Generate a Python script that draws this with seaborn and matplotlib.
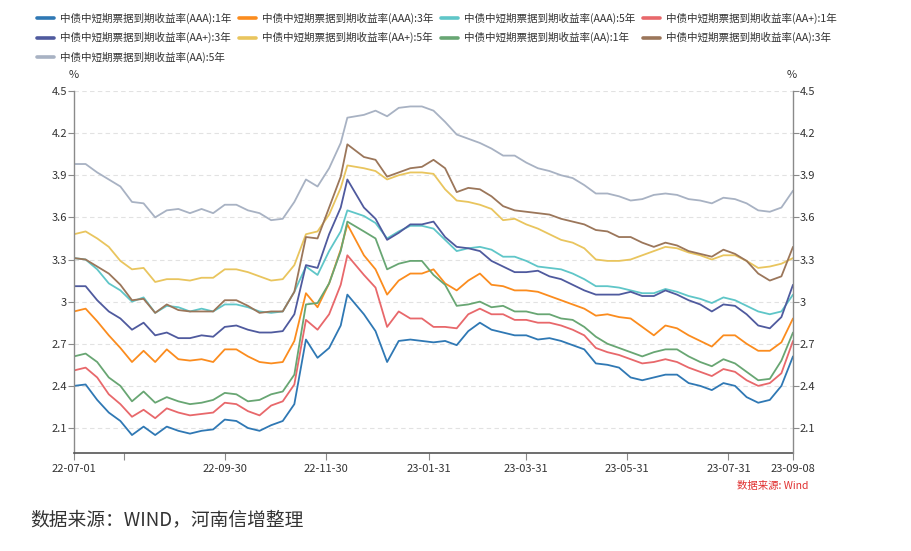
import matplotlib
matplotlib.use("Agg")
import matplotlib.pyplot as plt
from matplotlib.lines import Line2D
import pandas as pd
import seaborn as sns

dates = ["2022-07-01", "2022-07-08", "2022-07-15", "2022-07-22", "2022-07-29", "2022-08-05",
         "2022-08-12", "2022-08-19", "2022-08-26", "2022-09-02", "2022-09-09", "2022-09-16",
         "2022-09-23", "2022-09-30", "2022-10-07", "2022-10-14", "2022-10-21", "2022-10-28",
         "2022-11-04", "2022-11-11", "2022-11-18", "2022-11-25", "2022-12-02", "2022-12-09",
         "2022-12-13", "2022-12-23", "2022-12-30", "2023-01-06", "2023-01-13", "2023-01-20",
         "2023-01-27", "2023-02-03", "2023-02-10", "2023-02-17", "2023-02-24", "2023-03-03",
         "2023-03-10", "2023-03-17", "2023-03-24", "2023-03-31", "2023-04-07", "2023-04-14",
         "2023-04-21", "2023-04-28", "2023-05-05", "2023-05-12", "2023-05-19", "2023-05-26",
         "2023-06-02", "2023-06-09", "2023-06-16", "2023-06-23", "2023-06-30", "2023-07-07",
         "2023-07-14", "2023-07-21", "2023-07-28", "2023-08-04", "2023-08-11", "2023-08-18",
         "2023-08-25", "2023-09-01", "2023-09-08"]

aaa_1y = [2.40, 2.41, 2.30, 2.21, 2.15, 2.05, 2.11, 2.05, 2.11, 2.08, 2.06, 2.08, 2.09, 2.16, 2.15, 2.10,
          2.08, 2.12, 2.15, 2.27, 2.73, 2.60, 2.67, 2.83, 3.05, 2.91, 2.79, 2.57, 2.72, 2.73,
          2.72, 2.71, 2.72, 2.69, 2.79, 2.85, 2.80, 2.78, 2.76, 2.76, 2.73, 2.74, 2.72, 2.69, 2.66, 2.56,
          2.55, 2.53, 2.46, 2.44, 2.46, 2.48, 2.48, 2.42, 2.40, 2.37, 2.42, 2.40, 2.32, 2.28, 2.30, 2.40, 2.61]
aaa_3y = [2.93, 2.95, 2.86, 2.76, 2.67, 2.57, 2.65, 2.57, 2.66, 2.59, 2.58, 2.59, 2.57, 2.66, 2.66, 2.61,
          2.57, 2.56, 2.57, 2.72, 3.06, 2.96, 3.13, 3.37, 3.55, 3.33, 3.23, 3.05, 3.15, 3.20,
          3.20, 3.23, 3.13, 3.08, 3.15, 3.20, 3.12, 3.11, 3.08, 3.08, 3.07, 3.04, 3.01, 2.98, 2.95, 2.90,
          2.91, 2.89, 2.88, 2.82, 2.76, 2.83, 2.81, 2.76, 2.72, 2.68, 2.76, 2.76, 2.70, 2.65, 2.65, 2.71, 2.88]
aaa_5y = [3.31, 3.30, 3.23, 3.13, 3.08, 3.00, 3.03, 2.92, 2.97, 2.96, 2.93, 2.95, 2.93, 2.98, 2.98, 2.96,
          2.93, 2.92, 2.93, 3.07, 3.25, 3.19, 3.36, 3.50, 3.65, 3.61, 3.56, 3.45, 3.50, 3.54,
          3.54, 3.52, 3.44, 3.36, 3.38, 3.39, 3.37, 3.32, 3.32, 3.29, 3.25, 3.24, 3.23, 3.20, 3.16, 3.11,
          3.11, 3.10, 3.08, 3.06, 3.06, 3.09, 3.07, 3.04, 3.02, 2.99, 3.03, 3.01, 2.97, 2.93, 2.91, 2.93, 3.05]
aap_1y = [2.51, 2.53, 2.46, 2.34, 2.27, 2.18, 2.23, 2.17, 2.24, 2.21, 2.19, 2.20, 2.21, 2.28, 2.27, 2.22,
          2.19, 2.26, 2.29, 2.41, 2.87, 2.80, 2.91, 3.12, 3.33, 3.19, 3.10, 2.82, 2.93, 2.88,
          2.88, 2.82, 2.82, 2.81, 2.91, 2.95, 2.91, 2.91, 2.87, 2.87, 2.85, 2.85, 2.83, 2.80, 2.76, 2.67,
          2.64, 2.62, 2.59, 2.56, 2.57, 2.59, 2.57, 2.53, 2.50, 2.47, 2.52, 2.50, 2.44, 2.40, 2.42, 2.49, 2.72]
aap_3y = [3.11, 3.11, 3.01, 2.93, 2.88, 2.80, 2.85, 2.76, 2.78, 2.74, 2.74, 2.76, 2.75, 2.82, 2.83, 2.80,
          2.78, 2.78, 2.79, 2.91, 3.26, 3.24, 3.48, 3.67, 3.87, 3.67, 3.59, 3.44, 3.49, 3.55,
          3.55, 3.57, 3.46, 3.39, 3.38, 3.36, 3.29, 3.25, 3.21, 3.21, 3.22, 3.18, 3.16, 3.12, 3.08, 3.05,
          3.05, 3.05, 3.07, 3.04, 3.04, 3.08, 3.05, 3.01, 2.98, 2.93, 2.98, 2.97, 2.91, 2.83, 2.81, 2.89, 3.12]
aap_5y = [3.48, 3.50, 3.45, 3.39, 3.29, 3.23, 3.24, 3.14, 3.16, 3.16, 3.15, 3.17, 3.17, 3.23, 3.23, 3.21,
          3.18, 3.15, 3.16, 3.26, 3.48, 3.50, 3.62, 3.81, 3.97, 3.95, 3.93, 3.87, 3.90, 3.92,
          3.92, 3.91, 3.80, 3.72, 3.71, 3.69, 3.66, 3.58, 3.59, 3.55, 3.52, 3.48, 3.44, 3.42, 3.38, 3.30,
          3.29, 3.29, 3.30, 3.33, 3.36, 3.39, 3.38, 3.35, 3.33, 3.30, 3.33, 3.33, 3.29, 3.24, 3.25, 3.27, 3.31]
aa_1y = [2.61, 2.63, 2.57, 2.46, 2.40, 2.29, 2.36, 2.28, 2.32, 2.29, 2.27, 2.28, 2.30, 2.35, 2.34, 2.29,
         2.30, 2.34, 2.36, 2.48, 2.98, 2.99, 3.13, 3.36, 3.57, 3.50, 3.45, 3.23, 3.27, 3.29,
         3.29, 3.19, 3.12, 2.97, 2.98, 3.00, 2.96, 2.97, 2.93, 2.93, 2.91, 2.91, 2.88, 2.87, 2.82, 2.75,
         2.70, 2.67, 2.64, 2.61, 2.64, 2.66, 2.66, 2.61, 2.57, 2.54, 2.59, 2.56, 2.50, 2.44, 2.45, 2.58, 2.78]
aa_3y = [3.31, 3.30, 3.25, 3.20, 3.12, 3.01, 3.02, 2.92, 2.98, 2.94, 2.93, 2.93, 2.93, 3.01, 3.01, 2.97,
         2.92, 2.93, 2.93, 3.07, 3.46, 3.45, 3.67, 3.89, 4.12, 4.03, 4.01, 3.89, 3.92, 3.95,
         3.96, 4.01, 3.95, 3.78, 3.81, 3.80, 3.75, 3.68, 3.65, 3.64, 3.63, 3.62, 3.59, 3.57, 3.55, 3.51,
         3.50, 3.46, 3.46, 3.42, 3.39, 3.42, 3.40, 3.36, 3.34, 3.32, 3.37, 3.34, 3.29, 3.20, 3.15, 3.18, 3.39]
aa_5y = [3.98, 3.98, 3.92, 3.87, 3.82, 3.71, 3.70, 3.60, 3.65, 3.66, 3.63, 3.66, 3.63, 3.69, 3.69, 3.65,
         3.63, 3.58, 3.59, 3.71, 3.87, 3.82, 3.95, 4.13, 4.31, 4.33, 4.36, 4.32, 4.38, 4.39,
         4.39, 4.36, 4.28, 4.19, 4.16, 4.13, 4.09, 4.04, 4.04, 3.99, 3.95, 3.93, 3.90, 3.88, 3.83, 3.77,
         3.77, 3.75, 3.72, 3.73, 3.76, 3.77, 3.76, 3.73, 3.72, 3.70, 3.74, 3.73, 3.70, 3.65, 3.64, 3.67, 3.79]

series_names = ["中债中短期票据到期收益率(AAA):1年", "中债中短期票据到期收益率(AAA):3年",
                "中债中短期票据到期收益率(AAA):5年", "中债中短期票据到期收益率(AA+):1年",
                "中债中短期票据到期收益率(AA+):3年", "中债中短期票据到期收益率(AA+):5年",
                "中债中短期票据到期收益率(AA):1年", "中债中短期票据到期收益率(AA):3年",
                "中债中短期票据到期收益率(AA):5年"]
series_values = [aaa_1y, aaa_3y, aaa_5y, aap_1y, aap_3y, aap_5y, aa_1y, aa_3y, aa_5y]
colors = ["#2f78b4", "#fb8c1e", "#5fc6c8", "#e8686b", "#4f5a9e", "#e9c55e", "#68a673", "#9b765a", "#a8b2c3"]

y_ticks = [2.1, 2.4, 2.7, 3.0, 3.3, 3.6, 3.9, 4.2, 4.5]
x_ticks = ["2022-07-01", "2022-07-31", "2022-09-30", "2022-11-30", "2023-01-31",
           "2023-03-31", "2023-05-31", "2023-07-31", "2023-09-08"]
x_labels = ["22-07-01", "", "22-09-30", "22-11-30", "23-01-31", "23-03-31", "23-05-31", "23-07-31", "23-09-08"]

sns.set_theme(style="white")
plt.rcParams["font.family"] = ["Noto Sans CJK SC", "DejaVu Sans"]
plt.rcParams["axes.unicode_minus"] = False

rows = []
for name, vals in zip(series_names, series_values):
    for d, v in zip(dates, vals):
        rows.append({"date": pd.Timestamp(d), "value": v, "series": name})
df = pd.DataFrame(rows)

W, H = 912, 551
fig = plt.figure(figsize=(W / 100, H / 100), dpi=100)
ax = fig.add_axes([74 / W, 1 - 453 / H, (793 - 74) / W, (453 - 91) / H])

sns.lineplot(data=df, x="date", y="value", hue="series", hue_order=series_names,
             palette=dict(zip(series_names, colors)), ax=ax, linewidth=1.3, legend=False)

ax.set_xlim(pd.Timestamp("2022-07-01"), pd.Timestamp("2023-09-08"))
ax.set_ylim(1.922, 4.5)
ax.set_xlabel("")
ax.set_ylabel("")
ax.set_yticks(y_ticks)
ax.set_yticklabels([f"{v:g}" for v in y_ticks])
ax.set_xticks([pd.Timestamp(t) for t in x_ticks])
ax.set_xticklabels(x_labels)
ax.yaxis.grid(True, linestyle=(0, (4, 3)), color="#e2e2e2", linewidth=0.8)
ax.xaxis.grid(False)
ax.set_axisbelow(True)

for s in ["top", "right"]:
    ax.spines[s].set_visible(False)
ax.spines["left"].set_color("#8a8a8a")
ax.spines["left"].set_linewidth(1.0)
ax.spines["bottom"].set_color("#555555")
ax.spines["bottom"].set_linewidth(1.2)
ax.tick_params(axis="y", direction="out", length=4, width=0.8, color="#8a8a8a",
               labelsize=8, labelcolor="#333333", pad=1, left=True)
ax.tick_params(axis="x", direction="out", length=5, width=0.8, color="#8a8a8a",
               labelsize=8, labelcolor="#333333", pad=3, bottom=True)

ax2 = ax.twinx()
ax2.set_ylim(ax.get_ylim())
ax2.set_yticks(y_ticks)
ax2.set_yticklabels([f"{v:g}" for v in y_ticks])
for s in ["top", "left", "bottom"]:
    ax2.spines[s].set_visible(False)
ax2.spines["right"].set_color("#8a8a8a")
ax2.spines["right"].set_linewidth(1.0)
ax2.tick_params(axis="y", direction="out", length=4, width=0.8, color="#8a8a8a",
                labelsize=8, labelcolor="#333333", pad=1, right=True)
ax2.grid(False)

fig.text(74 / W, 1 - 75 / H, "%", ha="center", va="center", fontsize=8, color="#333333")
fig.text(792 / W, 1 - 75 / H, "%", ha="center", va="center", fontsize=8, color="#333333")

handles = [Line2D([0], [0], color=c, lw=2.6) for c in colors]
order = [0, 4, 8, 1, 5, 2, 6, 3, 7]
fig.legend([handles[i] for i in order], [series_names[i] for i in order],
           loc="upper left", bbox_to_anchor=(37 / W, 1 - 13 / H), ncol=4, frameon=False,
           fontsize=7.6, handlelength=1.65, handletextpad=0.5, columnspacing=0.75,
           labelspacing=0.75, labelcolor="#333333", borderaxespad=0, borderpad=0)

fig.text(808 / W, 1 - 486 / H, "数据来源: Wind", ha="right", va="center", fontsize=7.5, color="#e03030")
fig.text(30 / W, 1 - 520 / H, "数据来源：WIND，河南信增整理", ha="left", va="center",
         fontsize=13.5, color="#333333")

fig.savefig("out.png", dpi=100)
